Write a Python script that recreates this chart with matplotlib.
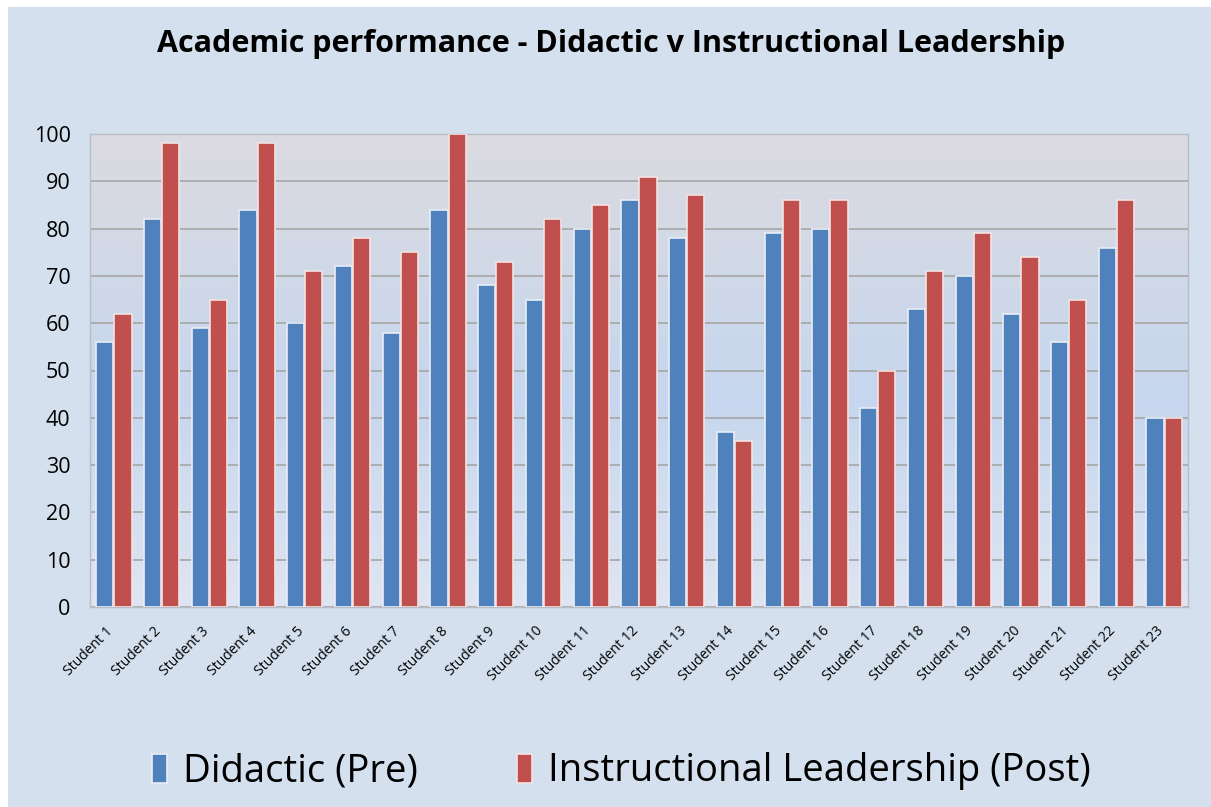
import numpy as np
import matplotlib
matplotlib.use('Agg')
import matplotlib.pyplot as plt
import matplotlib.transforms as mtrans
from matplotlib.colors import LinearSegmentedColormap
from matplotlib.patches import Rectangle

# data
students = ['Student ' + str(i) for i in range(1, 24)]
pre = [56, 82, 59, 84, 60, 72, 58, 84, 68, 65, 80, 86, 78, 37, 79, 80, 42, 63, 70, 62, 56, 76, 40]
post = [62, 98, 65, 98, 71, 78, 75, 100, 73, 82, 85, 91, 87, 35, 86, 86, 50, 71, 79, 74, 65, 86, 40]
yticks = [0, 10, 20, 30, 40, 50, 60, 70, 80, 90, 100]

plt.rcParams['font.family'] = ['Open Sans', 'DejaVu Sans']

fig = plt.figure(figsize=(12.11, 8.07), dpi=100, facecolor='white')
# light blue chart area with thin white margin at left/top
fig.patches.append(Rectangle((8/1211, 0), 1 - 8/1211, 1 - 7/807, transform=fig.transFigure,
                             facecolor='#d4e0ee', edgecolor='none', zorder=-10))

ax = fig.add_axes([90/1211, 1 - 607/807, (1188 - 90)/1211, (607 - 134)/807])

# gradient plot background: grey at top, blue in middle, pale at bottom
cmap = LinearSegmentedColormap.from_list('bg', [(0.0, '#dfe5f2'), (0.45, '#c6d6ee'), (1.0, '#dcdbe0')])
grad = np.linspace(0, 1, 256).reshape(-1, 1)
ax.imshow(grad, aspect='auto', cmap=cmap, extent=[-0.5, 22.5, 0, 100], origin='lower', zorder=0)

x = np.arange(len(students))
w = 0.36
ax.bar(x - w/2 - 0.01, pre, w, color='#4f81bd', edgecolor='#e8eef7', linewidth=1.2, zorder=3,
       label='Didactic (Pre)')
ax.bar(x + w/2 + 0.01, post, w, color='#c0504d', edgecolor='#f3e3e3', linewidth=1.2, zorder=3,
       label='Instructional Leadership (Post)')

ax.set_xlim(-0.5, 22.5)
ax.set_ylim(0, 100)
ax.set_yticks(yticks)
ax.tick_params(axis='y', labelsize=15.5, length=0, pad=14)
ax.set_xticks(x)
ax.set_xticklabels(students, rotation=45, ha='right', rotation_mode='anchor', fontsize=10)
ax.tick_params(axis='x', length=0, pad=12)
# shift the slanted labels a little left, like the original
offset = mtrans.ScaledTranslation(-8/100, 0, fig.dpi_scale_trans)
for lab in ax.get_xticklabels():
    lab.set_transform(lab.get_transform() + offset)
ax.yaxis.grid(True, color='#a6a6a6', linewidth=1.2, zorder=1)
for s in ax.spines.values():
    s.set_color('#b8bcc4')
    s.set_linewidth(1)

fig.text(0.505, 0.946, 'Academic performance - Didactic v Instructional Leadership',
         ha='center', va='center', fontsize=22, fontweight='bold')

leg = fig.legend(loc='center', bbox_to_anchor=(0.513, 0.044), ncol=2, fontsize=27.5, frameon=False,
                 handlelength=0.4, handleheight=0.8, handletextpad=0.4, columnspacing=2.6)

plt.savefig('out.png', dpi=100, facecolor=fig.get_facecolor())
